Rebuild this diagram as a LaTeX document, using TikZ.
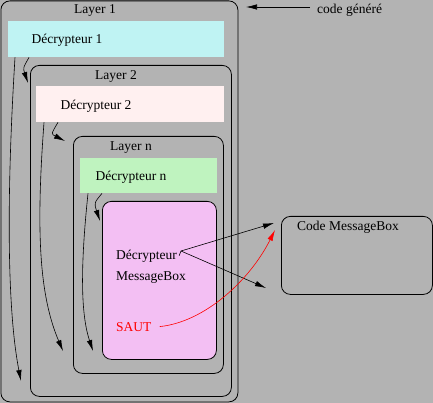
\documentclass[tikz,border=0pt]{standalone}
\usepackage{fontspec}
\setmainfont{Liberation Serif}
\usetikzlibrary{arrows.meta}
\definecolor{fondgris}{RGB}{179,179,179}
\definecolor{cyanclair}{RGB}{191,243,243}
\definecolor{roseclair}{RGB}{255,240,240}
\definecolor{vertclair}{RGB}{191,243,191}
\definecolor{mauveclair}{RGB}{243,191,243}
\tikzset{
  boite/.style={draw,line width=0.8pt,rounded corners=9pt,anchor=north west,inner sep=0pt},
  decr/.style={anchor=north west,inner sep=0pt},
  txt/.style={anchor=base,inner sep=0pt,font=\fontsize{13.5}{15}\selectfont},
  txtw/.style={txt,anchor=base west},
  fl/.style={line width=0.6pt,-{Latex[length=11pt,width=5.5pt]}}
}
\begin{document}
\begin{tikzpicture}[x=1pt,y=-1pt]
\fill[fondgris] (0,0) rectangle (433,403);
\useasboundingbox (0,0) rectangle (433,403);
% les couches
\node[boite,minimum width=237pt,minimum height=401pt] (layer1) at (0.5,0.5) {};
\node[decr,fill=cyanclair,minimum width=216pt,minimum height=36pt] (dec1) at (8,21) {};
\node[boite,minimum width=201pt,minimum height=331pt] (layer2) at (30,65) {};
\node[decr,fill=roseclair,minimum width=188pt,minimum height=36pt] (dec2) at (36,86) {};
\node[boite,minimum width=150pt,minimum height=237pt] (layern) at (73,136) {};
\node[decr,fill=vertclair,minimum width=137pt,minimum height=35pt] (decn) at (80,158) {};
\node[boite,fill=mauveclair,minimum width=114pt,minimum height=158pt] (msgbox) at (102,201) {};
\node[boite,minimum width=151pt,minimum height=78pt] (code) at (281,216) {};
% les textes
\node[txt] (t1) at (95,14) {Layer 1};
\node[txt] (t2) at (116,79.5) {Layer 2};
\node[txt] (tn) at (131,151) {Layer n};
\node[txt] (td1) at (67,43.5) {Décrypteur 1};
\node[txt] (td2) at (96,110) {Décrypteur 2};
\node[txt] (tdn) at (131,180.5) {Décrypteur n};
\node[txtw] (tdm) at (116,259) {Décrypteur};
\node[txtw] (tmb) at (116,280) {MessageBox};
\node[txtw,text=red] (saut) at (116,331) {SAUT};
\node[txtw] (tcode) at (297,230) {Code MessageBox};
\node[txtw] (gen) at (317,13.5) {code généré};
% points d'arrivee
\coordinate (fin1) at (21,381);
\coordinate (fin2) at (28,83);
\coordinate (fin3) at (63,351);
\coordinate (fin4) at (65,141);
\coordinate (fin5) at (93,351);
\coordinate (fin6) at (100,221);
\coordinate (pt) at (181,251);
\coordinate (cible1) at (274,223);
\coordinate (cible2) at (266,288);
\coordinate (cible3) at (275,230);
\coordinate (fleche) at (246,7);
% les fleches
\draw[fl] ([xshift=7pt]dec1.south west) .. controls (5,220) and (9,320) .. (fin1);
\draw[fl] ([xshift=21pt]dec1.south west) .. controls (23,68) .. (fin2);
\draw[fl] ([xshift=8pt]dec2.south west) .. controls (36,230) and (39,295) .. (fin3);
\draw[fl] ([xshift=22pt]dec2.south west) .. controls (51,134) .. (fin4);
\draw[fl] ([xshift=8pt]decn.south west) .. controls (80,270) and (81,315) .. (fin5);
\draw[fl] ([xshift=22pt]decn.south west) .. controls (94,203) .. (fin6);
\draw[line width=0.6pt] ([xshift=2pt]tdm.east) -- (pt);
\draw[fl] (pt) -- (cible1);
\draw[fl] (pt) -- (cible2);
\draw[fl,red] ([xshift=8pt]saut.east) .. controls (205,322) and (250,280) .. (cible3);
\draw[fl] ([xshift=-7pt]gen.west |- 0,7) -- (fleche);
\end{tikzpicture}
\end{document}
